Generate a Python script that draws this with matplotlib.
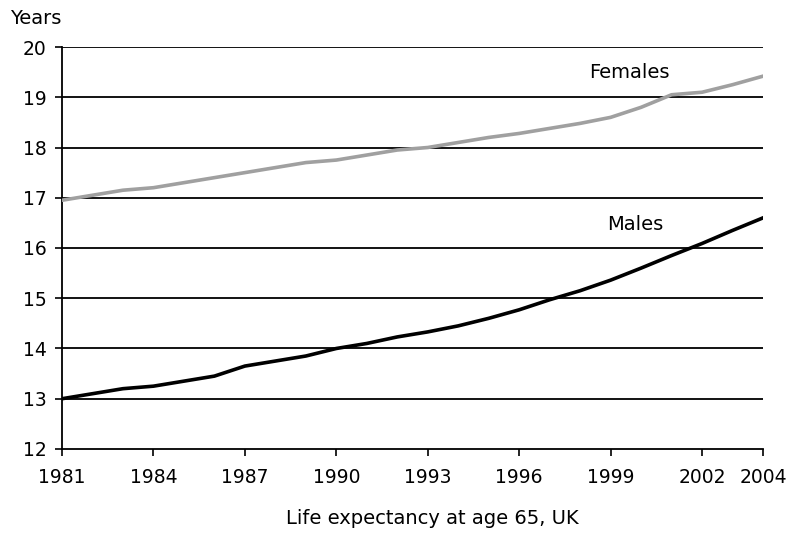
import matplotlib
matplotlib.use("Agg")
import matplotlib.pyplot as plt

years = list(range(1981, 2005))
males = [13.0, 13.1, 13.2, 13.25, 13.35, 13.45, 13.65, 13.75, 13.85, 14.0, 14.1, 14.23,
         14.33, 14.45, 14.6, 14.77, 14.97, 15.15, 15.36, 15.6, 15.85, 16.09, 16.35, 16.6]
females = [16.95, 17.05, 17.15, 17.2, 17.3, 17.4, 17.5, 17.6, 17.7, 17.75, 17.85, 17.95,
           18.0, 18.1, 18.2, 18.28, 18.38, 18.48, 18.6, 18.8, 19.05, 19.1, 19.25, 19.42]
xticks = [1981, 1984, 1987, 1990, 1993, 1996, 1999, 2002, 2004]
yticks = list(range(12, 21))

plt.rcParams["font.family"] = "DejaVu Sans"

fig = plt.figure(figsize=(8.01, 5.46), dpi=100)
ax = fig.add_axes([0.0774, 0.1777, 0.8752, 0.7362])

# horizontal grid, drawn by hand so the 20 line shows as the top border
for y in yticks[1:]:
    ax.axhline(y, color="black", lw=1.3, zorder=1)

ax.plot(years, females, color="#a0a0a0", lw=2.6, zorder=3)
ax.plot(years, males, color="black", lw=2.6, zorder=3)

ax.set_xlim(1981, 2004)
ax.set_ylim(12, 20)
ax.set_xticks(xticks)
ax.set_yticks(yticks)
ax.tick_params(axis="both", labelsize=13.5, length=5, width=1.2, color="black")
ax.tick_params(axis="x", pad=9)
ax.tick_params(axis="y", pad=6)

for s in ["top", "right"]:
    ax.spines[s].set_visible(False)
for s in ["left", "bottom"]:
    ax.spines[s].set_linewidth(1.3)

ax.text(1999.6, 19.5, "Females", fontsize=14, ha="center", va="center")
ax.text(1999.8, 16.46, "Males", fontsize=14, ha="center", va="center")
fig.text(0.045, 0.967, "Years", fontsize=14, ha="center", va="center")
fig.text(0.54, 0.051, "Life expectancy at age 65, UK", fontsize=14, ha="center", va="center")

fig.savefig("out.png", dpi=100)
